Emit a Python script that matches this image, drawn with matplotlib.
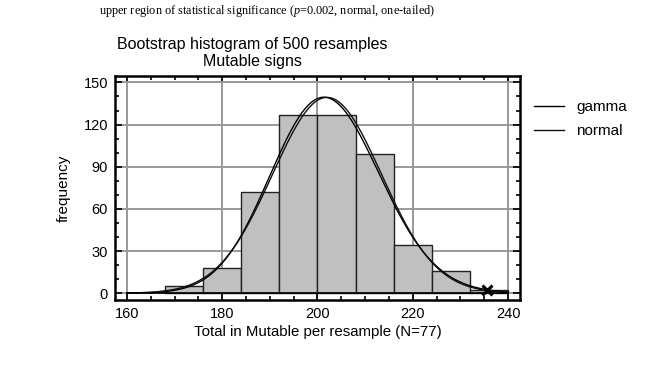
import math
import numpy as np
import matplotlib
matplotlib.use("Agg")
import matplotlib.pyplot as plt
from matplotlib.ticker import MultipleLocator

# histogram of bootstrap totals (bin edges every 8)
bin_left = [168, 176, 184, 192, 200, 208, 216, 224, 232]
counts = [5, 18, 72, 127, 127, 99, 34, 16, 2]
bin_width = 8
n_resamples = 500

# fitted distributions
norm_mean = 202.0
norm_sd = 11.45
gamma_shape = 311.0
gamma_scale = 0.6495   # mean ~ 202, sd ~ 11.45
observed = 235.5
observed_y = 2

plt.rcParams['font.family'] = ['Liberation Sans', 'DejaVu Sans']
plt.rcParams['mathtext.fontset'] = 'custom'
plt.rcParams['mathtext.it'] = 'Liberation Serif:italic'
plt.rcParams['mathtext.rm'] = 'Liberation Serif'

fig = plt.figure(figsize=(6.47, 3.67), dpi=100)
ax = fig.add_axes([0.1777, 0.1826, 0.626, 0.61])

ax.grid(True, color='#999999', linewidth=1.4, zorder=0)
ax.set_axisbelow(True)
ax.bar(bin_left, counts, width=bin_width, align='edge', color='#c0c0c0',
       edgecolor='#222222', linewidth=1.0, zorder=2)

x = np.linspace(160, 240, 400)
scale = n_resamples * bin_width
y_norm = scale * np.exp(-0.5 * ((x - norm_mean) / norm_sd) ** 2) / (norm_sd * math.sqrt(2 * math.pi))
log_g = ((gamma_shape - 1) * np.log(x) - x / gamma_scale
         - math.lgamma(gamma_shape) - gamma_shape * math.log(gamma_scale))
y_gamma = scale * np.exp(log_g)
ax.plot(x, y_gamma, color='black', linewidth=1.0, label='gamma', zorder=3)
ax.plot(x, y_norm, color='#111111', linewidth=1.0, label='normal', zorder=3)
ax.plot([160, 240], [0, 0], color='black', linewidth=1.2, zorder=3)
ax.plot([observed], [observed_y], marker='x', color='black', markersize=7,
        markeredgewidth=2.2, zorder=4)

ax.set_xlim(157.5, 242.5)
ax.set_ylim(-4.8, 154.5)
ax.xaxis.set_major_locator(MultipleLocator(20))
ax.xaxis.set_minor_locator(MultipleLocator(5))
ax.yaxis.set_major_locator(MultipleLocator(30))
ax.yaxis.set_minor_locator(MultipleLocator(10))
ax.tick_params(which='both', direction='in', top=True, right=True, width=1.2,
               labelsize=10.5, pad=5)
ax.tick_params(which='major', length=5)
ax.tick_params(which='minor', length=3)
for s in ax.spines.values():
    s.set_linewidth(1.8)

ax.set_xlabel('Total in Mutable per resample (N=77)', fontsize=10.8, labelpad=3)
ax.set_ylabel('frequency', fontsize=11, labelpad=9)

fig.text(252 / 647, 1 - 53 / 367, 'Bootstrap histogram of 500 resamples\nMutable signs',
         ha='center', va='center', fontsize=11.5, linespacing=1.15)
fig.text(267 / 647, 1 - 11 / 367,
         r'upper region of statistical significance ($p$=0.002, normal, one-tailed)',
         ha='center', va='center', fontsize=8.8, family='Liberation Serif', color='black')

ax.legend(loc='upper left', bbox_to_anchor=(1.0, 0.955), frameon=False, borderaxespad=0.5,
          fontsize=11, handlelength=2.0, handletextpad=0.8, labelspacing=0.65)

fig.savefig('out.png', dpi=100)
